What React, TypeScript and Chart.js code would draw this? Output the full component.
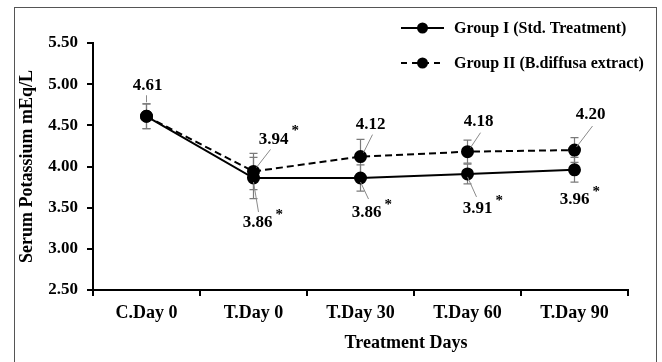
import React, { useEffect, useRef } from "react";
import { Chart, registerables } from "chart.js";

Chart.register(...registerables);

const categories = ["C.Day 0", "T.Day 0", "T.Day 30", "T.Day 60", "T.Day 90"];
const groupI = [4.61, 3.86, 3.86, 3.91, 3.96];
const groupII = [4.61, 3.94, 4.12, 4.18, 4.2];
const groupIErr = [0.15, 0.25, 0.16, 0.12, 0.15];
const groupIIErr = [0.15, 0.22, 0.21, 0.14, 0.15];
const groupILabels = ["", "3.86", "3.86", "3.91", "3.96"];
const groupIILabels = ["4.61", "3.94", "4.12", "4.18", "4.20"];
const groupIStar = [false, true, true, true, true];
const groupIIStar = [false, true, false, false, false];
const seriesNames = ["Group I (Std. Treatment)", "Group II (B.diffusa extract)"];
const yTicks = [2.5, 3.0, 3.5, 4.0, 4.5, 5.0, 5.5];
const xTitle = "Treatment Days";
const yTitle = "Serum Potassium mEq/L";

// label layout (offsets from the point, in px): [dx, dy, leaderFrom dx,dy, leaderTo dx,dy]
const G2_OFF = [
  [1, -31, 0, -14, 0, -21],
  [20, -32, 3, -4, 17, -22],
  [10, -32, 3, -4, 12, -22],
  [11, -30, 3, -4, 13, -19],
  [16, -35, 2, -3, 18, -24],
];
const G1_OFF = [
  [0, 0, 0, 0, 0, 0],
  [4, 45, 0, 4, 5, 34],
  [6, 35, 0, 4, 8, 21],
  [10, 35, 0, 3, 9, 23],
  [0, 30, 0, 0, 0, 0],
];

const SERIF = '"Liberation Serif", "Times New Roman", serif';

const decorPlugin = {
  id: "decor",
  beforeDatasetsDraw(chart: any) {
    const ctx = chart.ctx;
    const y = chart.scales.y;
    ctx.save();
    ctx.strokeStyle = "#7a7a7a";
    ctx.lineWidth = 1.2;
    const sets = [
      [groupI, groupIErr],
      [groupII, groupIIErr],
    ];
    sets.forEach(([vals, errs], di) => {
      const meta = chart.getDatasetMeta(di);
      (vals as number[]).forEach((v, i) => {
        const x = meta.data[i].x;
        const top = y.getPixelForValue(v + (errs as number[])[i]);
        const bot = y.getPixelForValue(v - (errs as number[])[i]);
        ctx.beginPath();
        ctx.moveTo(x, top);
        ctx.lineTo(x, bot);
        ctx.moveTo(x - 4, top);
        ctx.lineTo(x + 4, top);
        ctx.moveTo(x - 4, bot);
        ctx.lineTo(x + 4, bot);
        ctx.stroke();
      });
    });
    ctx.restore();
  },
  afterDraw(chart: any) {
    const ctx = chart.ctx;
    const area = chart.chartArea;
    ctx.save();
    // frame
    ctx.strokeStyle = "#555";
    ctx.lineWidth = 1;
    ctx.strokeRect(14.5, 7.5, 642, 370);

    // labels
    const drawLabel = (txt: string, star: boolean, px: number, py: number, off: number[]) => {
      if (!txt) return;
      ctx.strokeStyle = "#8a8a8a";
      ctx.lineWidth = 1;
      if (off[2] !== off[4] || off[3] !== off[5]) {
        ctx.beginPath();
        ctx.moveTo(px + off[2], py + off[3]);
        ctx.lineTo(px + off[4], py + off[5]);
        ctx.stroke();
      }
      ctx.fillStyle = "#000";
      ctx.font = `bold 17px ${SERIF}`;
      ctx.textAlign = "center";
      ctx.textBaseline = "middle";
      const cx = px + off[0];
      const cy = py + off[1];
      ctx.fillText(txt, cx, cy);
      if (star) {
        const w = ctx.measureText(txt).width;
        ctx.font = `bold 15px ${SERIF}`;
        ctx.textAlign = "left";
        ctx.fillText("*", cx + w / 2 + 3, cy - 8);
      }
    };
    const m1 = chart.getDatasetMeta(0);
    const m2 = chart.getDatasetMeta(1);
    groupIILabels.forEach((t, i) => drawLabel(t, groupIIStar[i], m2.data[i].x, m2.data[i].y, G2_OFF[i]));
    groupILabels.forEach((t, i) => drawLabel(t, groupIStar[i], m1.data[i].x, m1.data[i].y, G1_OFF[i]));

    // axis titles
    ctx.fillStyle = "#000";
    ctx.font = `bold 18px ${SERIF}`;
    ctx.textAlign = "center";
    ctx.textBaseline = "middle";
    ctx.fillText(xTitle, 406, 343);
    ctx.save();
    ctx.translate(27, (area.top + area.bottom) / 2);
    ctx.rotate(-Math.PI / 2);
    ctx.fillText(yTitle, 0, 0);
    ctx.restore();

    // legend
    const rows = [28, 63];
    seriesNames.forEach((name, i) => {
      const yy = rows[i];
      ctx.strokeStyle = "#000";
      ctx.lineWidth = 2;
      ctx.setLineDash(i === 1 ? [6, 5] : []);
      ctx.beginPath();
      ctx.moveTo(401, yy);
      ctx.lineTo(444, yy);
      ctx.stroke();
      ctx.setLineDash([]);
      ctx.fillStyle = "#000";
      ctx.beginPath();
      ctx.arc(422.5, yy, 5.5, 0, Math.PI * 2);
      ctx.fill();
      ctx.font = `bold 16px ${SERIF}`;
      ctx.textAlign = "left";
      ctx.textBaseline = "middle";
      ctx.fillText(name, 454, yy + 1);
    });
    ctx.restore();
  },
};

export default function App() {
  const ref = useRef<HTMLCanvasElement | null>(null);
  useEffect(() => {
    if (!ref.current) return;
    const chart = new Chart(ref.current, {
      type: "line",
      data: {
        labels: categories,
        datasets: [
          {
            label: seriesNames[0],
            data: groupI,
            borderColor: "#000",
            backgroundColor: "#000",
            borderWidth: 2,
            pointRadius: 5.5,
            pointBackgroundColor: "#000",
            pointBorderColor: "#000",
            tension: 0,
          },
          {
            label: seriesNames[1],
            data: groupII,
            borderColor: "#000",
            backgroundColor: "#000",
            borderWidth: 2,
            borderDash: [7, 4],
            pointRadius: 5.5,
            pointBackgroundColor: "#000",
            pointBorderColor: "#000",
            tension: 0,
          },
        ],
      },
      options: {
        responsive: false,
        animation: false,
        layout: { padding: { left: 0, right: 34, top: 43, bottom: 0 } },
        plugins: { legend: { display: false }, title: { display: false }, tooltip: { enabled: false } },
        scales: {
          x: {
            type: "category",
            offset: true,
            grid: { offset: true, drawOnChartArea: false, drawTicks: true, tickLength: 6, color: "#000", lineWidth: 2 },
            border: { color: "#000", width: 2 },
            ticks: { color: "#000", font: { family: SERIF, size: 18, weight: "bold" }, padding: 7 },
            afterFit: (s: any) => {
              s.height = 72;
            },
          },
          y: {
            min: 2.5,
            max: 5.5,
            afterBuildTicks: (s: any) => {
              s.ticks = yTicks.map((v) => ({ value: v }));
            },
            grid: { drawOnChartArea: false, drawTicks: true, tickLength: 6, color: "#000", lineWidth: 2 },
            border: { color: "#000", width: 2 },
            ticks: {
              color: "#000",
              font: { family: SERIF, size: 17, weight: "bold" },
              padding: 9,
              callback: (v: any) => Number(v).toFixed(2),
            },
            afterFit: (s: any) => {
              s.width = 93;
            },
          },
        },
      },
      plugins: [decorPlugin],
    } as any);
    return () => chart.destroy();
  }, []);
  return (
    <div style={{ position: "absolute", left: 0, top: 0, width: 662, height: 362, background: "#fff" }}>
      <canvas ref={ref} width={662} height={362} style={{ display: "block" }} />
    </div>
  );
}
